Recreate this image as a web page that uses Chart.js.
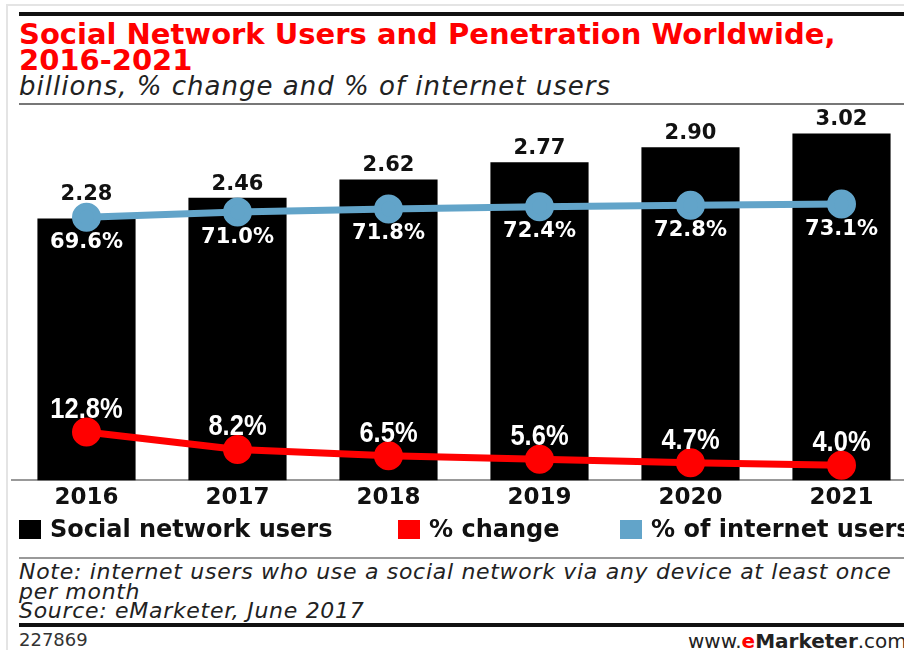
<!DOCTYPE html>
<html>
<head>
<meta charset="utf-8">
<script src="https://cdn.jsdelivr.net/npm/chart.js@4"></script>
<style>
  html, body { margin: 0; padding: 0; background: #fff; }
  body { width: 904px; height: 650px; position: relative; overflow: hidden; font-family: "DejaVu Sans", sans-serif; }
  .frame-left { position: absolute; left: 6px; top: 4px; width: 2px; height: 650px; background: #e4e4e4; }
  .frame-top { position: absolute; left: 6px; top: 4px; width: 900px; height: 2px; background: #e4e4e4; }
  .rule { position: absolute; left: 19px; width: 900px; }
  .title { position: absolute; left: 19px; top: 21px; color: #ff0000; font-weight: bold; font-size: 29px; line-height: 26px; white-space: nowrap; }
  .subtitle { position: absolute; left: 19px; top: 71px; color: #222; font-style: italic; font-size: 26px; letter-spacing: 1px; line-height: 30px; white-space: nowrap; }
  #chartBox { position: absolute; left: 11px; top: 100px; width: 906px; height: 416px; }
  .legend { position: absolute; top: 515px; font-weight: bold; font-size: 24px; color: #111; white-space: nowrap; line-height: 28px; }
  .legend i { display: inline-block; width: 22px; height: 19px; vertical-align: -2px; margin-right: 9px; }
  .note { position: absolute; left: 19px; top: 562px; font-style: italic; font-size: 22px; letter-spacing: 0.7px; line-height: 19.5px; color: #222; white-space: nowrap; }
  .id { position: absolute; left: 19px; top: 629px; font-size: 18px; color: #333; }
  .site { position: absolute; left: 688px; top: 629px; font-size: 20px; color: #222; white-space: nowrap; }
</style>
</head>
<body>
<div class="frame-left"></div>
<div class="frame-top"></div>
<div class="rule" style="top:12px;height:4px;background:#111;"></div>
<div class="title">Social Network Users and Penetration Worldwide,<br>2016-2021</div>
<div class="subtitle">billions, % change and % of internet users</div>
<div class="rule" style="top:103px;height:2px;background:#777;"></div>

<div id="chartBox"><canvas id="chart"></canvas></div>

<div class="legend" style="left:19px;"><i style="background:#000;"></i>Social network users</div>
<div class="legend" style="left:398px;"><i style="background:#ff0000;"></i>% change</div>
<div class="legend" style="left:620px;"><i style="background:#62a4c9;"></i>% of internet users</div>

<div class="rule" style="top:557px;height:2px;background:#999;"></div>
<div class="note">Note: internet users who use a social network via any device at least once<br>per month<br>Source: eMarketer, June 2017</div>
<div class="rule" style="top:623px;height:4px;background:#111;"></div>
<div class="id">227869</div>
<div class="site">www.<b style="color:#ff0000;">e</b><b>Marketer</b>.com</div>

<script>
// Values
const years = ['2016', '2017', '2018', '2019', '2020', '2021'];
const users = [2.28, 2.46, 2.62, 2.77, 2.90, 3.02];          // billions
const pctChange = [12.8, 8.2, 6.5, 5.6, 4.7, 4.0];           // % change
const pctInternet = [69.6, 71.0, 71.8, 72.4, 72.8, 73.1];    // % of internet users

const blue = '#62a4c9';
const red = '#ff0000';

// Draws the value labels next to each bar / point
const valueLabels = {
  id: 'valueLabels',
  afterDatasetsDraw(chart) {
    const ctx = chart.ctx;
    const bluePts = chart.getDatasetMeta(2).data;
    ctx.save();
    ctx.textAlign = 'center';
    chart.data.datasets.forEach((ds, i) => {
      const meta = chart.getDatasetMeta(i);
      meta.data.forEach((el, j) => {
        const v = ds.data[j];
        if (ds.type === 'bar') {
          // keep the number clear of the blue line
          const y = Math.min(el.y - 3, bluePts[j].y - 12);
          ctx.font = 'bold 21px "DejaVu Sans"';
          ctx.fillStyle = '#111';
          ctx.textBaseline = 'bottom';
          ctx.fillText(v.toFixed(2), el.x, y);
        } else if (ds.label === '% of internet users') {
          ctx.font = 'bold 21px "DejaVu Sans"';
          ctx.fillStyle = '#fff';
          ctx.textBaseline = 'middle';
          ctx.fillText(v.toFixed(1) + '%', el.x, el.y + 25);
        } else {
          // narrow lettering, squeezed horizontally
          ctx.save();
          ctx.translate(el.x, el.y - 22);
          ctx.scale(0.88, 1);
          ctx.font = 'bold 29px "Liberation Sans"';
          ctx.fillStyle = '#fff';
          ctx.textBaseline = 'middle';
          ctx.fillText(v.toFixed(1) + '%', 0, 0);
          ctx.restore();
        }
      });
    });
    ctx.restore();
  }
};

new Chart(document.getElementById('chart'), {
  data: {
    labels: years,
    datasets: [
      {
        type: 'bar',
        label: 'Social network users',
        data: users,
        backgroundColor: '#000',
        barPercentage: 0.65,
        categoryPercentage: 1,
        yAxisID: 'y',
        order: 3
      },
      {
        type: 'line',
        label: '% change',
        data: pctChange,
        borderColor: red,
        backgroundColor: red,
        borderWidth: 7,
        pointRadius: 11,
        pointHoverRadius: 11,
        yAxisID: 'pct',
        order: 1
      },
      {
        type: 'line',
        label: '% of internet users',
        data: pctInternet,
        borderColor: blue,
        backgroundColor: blue,
        borderWidth: 7,
        pointRadius: 11,
        pointHoverRadius: 11,
        yAxisID: 'pct',
        order: 2
      }
    ]
  },
  options: {
    responsive: true,
    maintainAspectRatio: false,
    animation: false,
    layout: { autoPadding: false, padding: { top: 10, left: 0, right: 0, bottom: 0 } },
    scales: {
      x: {
        offset: true,
        grid: { display: false, drawTicks: false },
        border: { display: true, color: '#999', width: 2 },
        ticks: {
          padding: 4,
          color: '#111',
          font: { family: 'DejaVu Sans', weight: 'bold', size: 23 }
        }
      },
      y: { display: false, min: 0, max: 3.225 },
      pct: { display: false, min: 0, max: 98 }
    },
    plugins: {
      legend: { display: false },
      tooltip: { enabled: false }
    }
  },
  plugins: [valueLabels]
});
</script>
</body>
</html>
